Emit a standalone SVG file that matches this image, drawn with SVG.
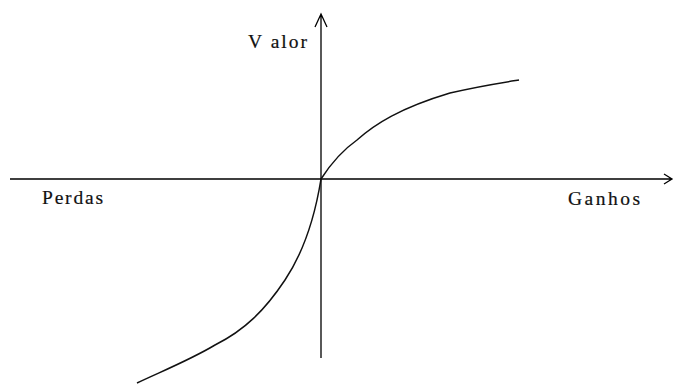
<svg xmlns="http://www.w3.org/2000/svg" width="675" height="387" viewBox="0 0 675 387">
<style>
.ax{stroke:#000;stroke-width:1.3;fill:none}
.cv{stroke:#111;stroke-width:1.5;fill:none}
.t{font-family:"Liberation Serif","Times New Roman",serif;font-size:19.5px;fill:#111;stroke:#111;stroke-width:0.2}
</style>
<rect width="675" height="387" fill="#fff"/>
<g id="connectors">
<path class="ax" d="M10,179 H672 M664,174 L672,179 L664,184"/>
<path class="ax" d="M321,358 V14 M315,27 L321,14 L327,27"/>
<path class="cv" d="M321,179 C330,165 340,152 357,140 C375,124 400,108 450,93 C480,86 500,83 519,80"/>
<path class="cv" d="M321,179 C316,210 305,250 285,280 C265,310 245,330 215,345 C190,360 160,372 137,383"/>
</g>
<g id="valor"><text class="t" x="248" y="48" textLength="59" lengthAdjust="spacing">V alor</text></g>
<g id="perdas"><text class="t" x="42" y="204" textLength="61" lengthAdjust="spacing">Perdas</text></g>
<g id="ganhos"><text class="t" x="568" y="205" textLength="72" lengthAdjust="spacing">Ganhos</text></g>
</svg>
